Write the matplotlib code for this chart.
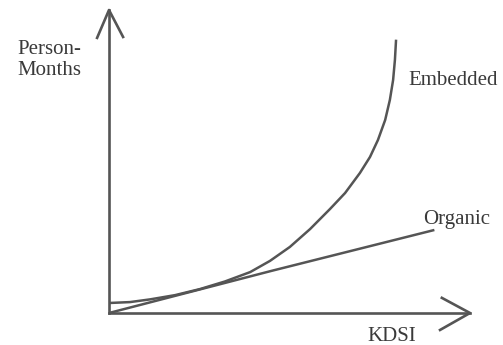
import matplotlib.pyplot as plt

# values (arbitrary units, axes 0..100)
kdsi_embedded = [0, 5.8, 11.4, 18.3, 25.2, 32.1, 39.1, 44.6, 50.1, 55.7,
                 61.2, 65.4, 69.5, 72.3, 74.5, 76.5, 77.8, 78.7, 79.2, 79.5]
pm_embedded = [3.3, 3.6, 4.5, 5.9, 7.9, 10.4, 13.5, 17.2, 21.8, 27.7,
               34.3, 39.6, 46.2, 51.5, 57.1, 63.7, 70.3, 76.9, 83.5, 89.8]

kdsi_organic = [0, 45.0, 89.8]
pm_organic = [0, 13.9, 27.3]

ink = '#555555'
txt = '#3a3a3a'
plt.rcParams['font.family'] = ['Liberation Serif', 'DejaVu Serif']

fig = plt.figure(figsize=(5.03, 3.45), dpi=100)
ax = fig.add_axes([109 / 503, 32 / 345, 361 / 503, 303 / 345])
ax.set_xlim(0, 100)
ax.set_ylim(0, 100)
ax.axis('off')

ax.plot(kdsi_embedded, pm_embedded, color=ink, lw=1.8, solid_joinstyle='round')
ax.plot(kdsi_organic, pm_organic, color=ink, lw=1.8, solid_joinstyle='round')

# axes with open arrow heads
ax.plot([0, 0], [0, 100], color=ink, lw=1.9, clip_on=False)
ax.plot([0, 100], [0, 0], color=ink, lw=1.9, clip_on=False)
ax.plot([-3.3, 0, 3.9], [90.8, 100, 91.1], color=ink, lw=1.9, clip_on=False)
ax.plot([92.2, 100, 91.7], [5.0, 0, -5.6], color=ink, lw=1.9, clip_on=False)

fs = 15
fig.text(17 / 503, 1 - 54 / 345, 'Person-', fontsize=fs, color=txt, ha='left', va='baseline')
fig.text(17 / 503, 1 - 75 / 345, 'Months', fontsize=fs, color=txt, ha='left', va='baseline')
fig.text(408 / 503, 1 - 85 / 345, 'Embedded', fontsize=fs, color=txt, ha='left', va='baseline')
fig.text(423 / 503, 1 - 224 / 345, 'Organic', fontsize=fs, color=txt, ha='left', va='baseline')
fig.text(367 / 503, 1 - 341 / 345, 'KDSI', fontsize=fs, color=txt, ha='left', va='baseline')

fig.savefig('out.png', dpi=100)
